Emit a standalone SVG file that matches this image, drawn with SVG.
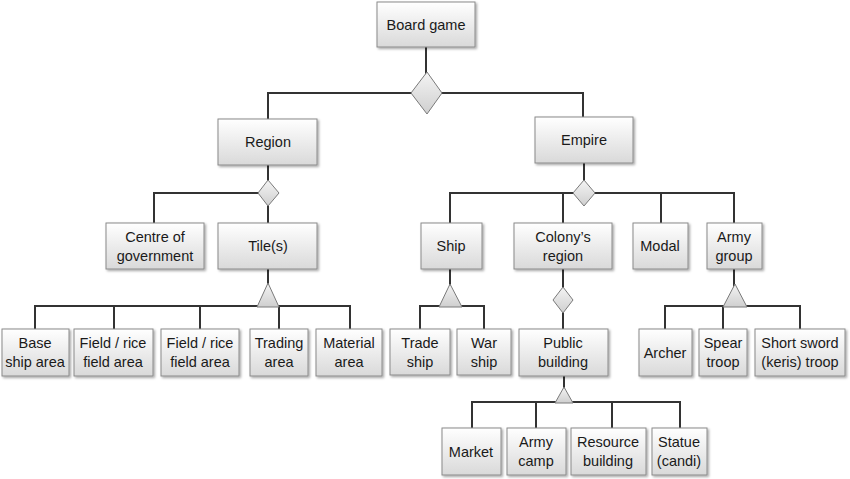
<svg xmlns="http://www.w3.org/2000/svg" width="850" height="479" viewBox="0 0 850 479">
<defs>
<linearGradient id="g" x1="0" y1="0" x2="0" y2="1">
<stop offset="0" stop-color="#ffffff"/>
<stop offset="1" stop-color="#d9d9d9"/>
</linearGradient>
<linearGradient id="gd" x1="0" y1="0" x2="0" y2="1">
<stop offset="0" stop-color="#f4f4f4"/>
<stop offset="1" stop-color="#cfcfcf"/>
</linearGradient>
<filter id="sh" x="-10%" y="-10%" width="130%" height="130%">
<feDropShadow dx="1.5" dy="1.5" stdDeviation="1" flood-color="#000" flood-opacity="0.35"/>
</filter>
</defs>
<style>
.box{fill:url(#g);stroke:#8a8a8a;stroke-width:1;filter:url(#sh)}
.t{font-family:"Liberation Sans",Arial,sans-serif;font-size:14.5px;fill:#1a1a1a;text-anchor:middle}
.ln{fill:none;stroke:#333;stroke-width:2}
.sym{fill:url(#gd);stroke:#7a7a7a;stroke-width:1}
</style>
<g id="connectors">
<path class="ln" d="M426 47V93M268 119V93H583V117"/>
<path class="ln" d="M268 165V193M154 223V193H268M268 193V223"/>
<path class="ln" d="M584 163V193M450 223V193H734V223M563 193V223M661 193V223"/>
<path class="ln" d="M268 269V306M35 329V306H350V329M114 306V329M200 306V329M279 306V329"/>
<path class="ln" d="M450 269V306M420 329V306H484V329"/>
<path class="ln" d="M563 269V329"/>
<path class="ln" d="M734 269V306M665 329V306H800V329M723 306V329"/>
<path class="ln" d="M564 376V402M472 428V402H680V428M536 402V428M612 402V428"/>
<polygon class="sym" points="427,72 442,93 427,114 411,93"/>
<polygon class="sym" points="268,180 279,193 268,206 258,193"/>
<polygon class="sym" points="584,180 595,193 584,206 573,193"/>
<polygon class="sym" points="563,287 573,300 563,313 553,300"/>
<polygon class="sym" points="268,283 279,307 257,307"/>
<polygon class="sym" points="450,284 462,307 439,307"/>
<polygon class="sym" points="735,284 747,307 723,307"/>
<polygon class="sym" points="564,387 573,403 555,403"/>
</g>
<g id="board"><rect class="box" x="377" y="2" width="98" height="45"/><text class="t" x="426" y="30">Board game</text></g>
<g id="region"><rect class="box" x="218" y="119" width="99" height="46"/><text class="t" x="268" y="147">Region</text></g>
<g id="empire"><rect class="box" x="535" y="117" width="98" height="46"/><text class="t" x="584" y="145">Empire</text></g>
<g id="centre"><rect class="box" x="106" y="223" width="98" height="46"/><text class="t" x="155" y="242">Centre of</text><text class="t" x="155" y="261">government</text></g>
<g id="tiles"><rect class="box" x="218" y="223" width="99" height="46"/><text class="t" x="268" y="251">Tile(s)</text></g>
<g id="ship"><rect class="box" x="421" y="223" width="61" height="46"/><text class="t" x="451" y="251">Ship</text></g>
<g id="colony"><rect class="box" x="514" y="223" width="98" height="46"/><text class="t" x="563" y="242">Colony’s</text><text class="t" x="563" y="261">region</text></g>
<g id="modal"><rect class="box" x="633" y="223" width="55" height="46"/><text class="t" x="660" y="251">Modal</text></g>
<g id="army"><rect class="box" x="707" y="223" width="55" height="46"/><text class="t" x="734" y="242">Army</text><text class="t" x="734" y="261">group</text></g>
<g id="baseship"><rect class="box" x="2" y="329" width="67" height="47"/><text class="t" x="35" y="348">Base</text><text class="t" x="35" y="367">ship area</text></g>
<g id="field1"><rect class="box" x="74" y="329" width="79" height="47"/><text class="t" x="113" y="348">Field / rice</text><text class="t" x="113" y="367">field area</text></g>
<g id="field2"><rect class="box" x="161" y="329" width="78" height="47"/><text class="t" x="200" y="348">Field / rice</text><text class="t" x="200" y="367">field area</text></g>
<g id="trading"><rect class="box" x="250" y="329" width="58" height="47"/><text class="t" x="279" y="348">Trading</text><text class="t" x="279" y="367">area</text></g>
<g id="material"><rect class="box" x="316" y="329" width="66" height="47"/><text class="t" x="349" y="348">Material</text><text class="t" x="349" y="367">area</text></g>
<g id="tradeship"><rect class="box" x="390" y="329" width="60" height="46"/><text class="t" x="420" y="348">Trade</text><text class="t" x="420" y="367">ship</text></g>
<g id="warship"><rect class="box" x="457" y="329" width="54" height="46"/><text class="t" x="484" y="348">War</text><text class="t" x="484" y="367">ship</text></g>
<g id="public"><rect class="box" x="519" y="329" width="89" height="47"/><text class="t" x="563" y="348">Public</text><text class="t" x="563" y="367">building</text></g>
<g id="archer"><rect class="box" x="639" y="329" width="53" height="47"/><text class="t" x="665" y="358">Archer</text></g>
<g id="spear"><rect class="box" x="699" y="329" width="48" height="47"/><text class="t" x="723" y="348">Spear</text><text class="t" x="723" y="367">troop</text></g>
<g id="sword"><rect class="box" x="755" y="329" width="90" height="47"/><text class="t" x="800" y="348">Short sword</text><text class="t" x="800" y="367">(keris) troop</text></g>
<g id="market"><rect class="box" x="442" y="428" width="59" height="47"/><text class="t" x="471" y="457">Market</text></g>
<g id="armycamp"><rect class="box" x="507" y="428" width="59" height="47"/><text class="t" x="536" y="447">Army</text><text class="t" x="536" y="466">camp</text></g>
<g id="resource"><rect class="box" x="571" y="428" width="75" height="47"/><text class="t" x="608" y="447">Resource</text><text class="t" x="608" y="466">building</text></g>
<g id="statue"><rect class="box" x="652" y="428" width="55" height="47"/><text class="t" x="679" y="447">Statue</text><text class="t" x="679" y="466">(candi)</text></g>
</svg>
